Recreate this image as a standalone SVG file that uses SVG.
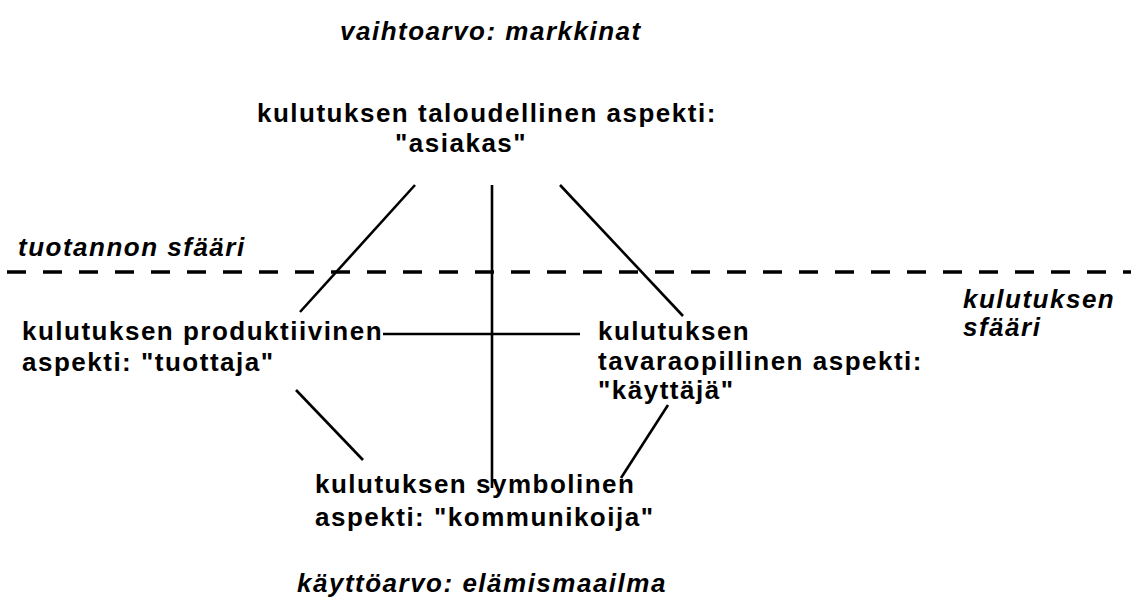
<svg xmlns="http://www.w3.org/2000/svg" width="1131" height="605" viewBox="0 0 1131 605">
<style>
.t{font-family:"Liberation Sans",Arial,sans-serif;font-weight:bold;font-size:26px;letter-spacing:1.5px;fill:#000}
.i{font-family:"Liberation Sans",Arial,sans-serif;font-weight:bold;font-style:italic;font-size:26px;letter-spacing:1.5px;fill:#000}
.c{stroke:#000;stroke-width:2.6;fill:none}
.d{stroke:#000;stroke-width:3.6;stroke-dasharray:19 17;fill:none}
</style>
<rect width="1131" height="605" fill="#fff"/>
<g id="labels">
<text class="i" x="340" y="40">vaihtoarvo: markkinat</text>
<text class="i" x="18" y="256">tuotannon sfääri</text>
<text class="i" x="963" y="308">kulutuksen</text>
<text class="i" x="963" y="336">sfääri</text>
<text class="i" x="297" y="592">käyttöarvo: elämismaailma</text>
</g>
<g id="connectors">
<line class="d" x1="7" y1="272" x2="1131" y2="272"/>
<line class="c" x1="415" y1="185" x2="300" y2="312"/>
<line class="c" x1="492" y1="185" x2="492" y2="488"/>
<line class="c" x1="560" y1="185" x2="683" y2="316"/>
<line class="c" x1="383" y1="334" x2="580" y2="334"/>
<line class="c" x1="296" y1="390" x2="363" y2="460"/>
<line class="c" x1="668" y1="405" x2="621" y2="478"/>
</g>
<g id="node-taloudellinen">
<text class="t" x="257" y="122">kulutuksen taloudellinen aspekti:</text>
<text class="t" x="395" y="152">"asiakas"</text>
</g>
<g id="node-produktiivinen">
<text class="t" x="22" y="340">kulutuksen produktiivinen</text>
<text class="t" x="22" y="371">aspekti: "tuottaja"</text>
</g>
<g id="node-tavaraopillinen">
<text class="t" x="598" y="340">kulutuksen</text>
<text class="t" x="598" y="370">tavaraopillinen aspekti:</text>
<text class="t" x="598" y="399">"käyttäjä"</text>
</g>
<g id="node-symbolinen">
<text class="t" x="315" y="493">kulutuksen symbolinen</text>
<text class="t" x="315" y="526">aspekti: "kommunikoija"</text>
</g>
</svg>
